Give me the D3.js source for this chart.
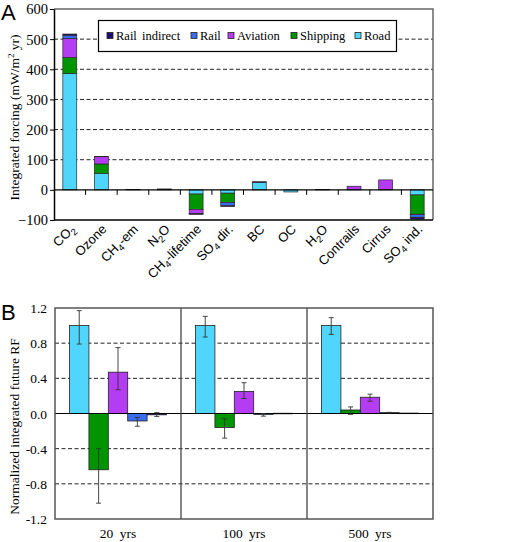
<!DOCTYPE html>
<html><head><meta charset="utf-8">
<script src="https://cdn.jsdelivr.net/npm/d3@7"></script>
<style>body{margin:0;background:#fff}svg{display:block}</style>
</head><body>
<svg id="c" width="520" height="542"></svg>
<script>
// ---------- Panel A data ----------
const categoriesA = ["CO2","Ozone","CH4-em","N2O","CH4-lifetime","SO4 dir.","BC","OC","H2O","Contrails","Cirrus","SO4 ind."];
const seriesNames = ["Road","Shipping","Aviation","Rail","Rail indirect"];
const legendOrder = ["Rail indirect","Rail","Aviation","Shipping","Road"];
const roadA     = [386, 55, 0.8, 1,  -14, -11, 25, -7, 0.6, 0,  0,  -17];
const shippingA = [53,  31, 0,   0,  -51, -31, 0,  0,  0,   0,  0,  -64];
const aviationA = [63,  24, 0,   0,  -14, 0,   0,  0,  0,   12, 33, -1];
const railA     = [11,  1,  0,   0,  -1,  -11, 0,  0,  0,   0,  0,  -9];
const railIndA  = [4,   0,  0.6, 2,  -1,  -2,  2,  0,  0.6, 0,  0,  -6];
const yTicksA = [-100,0,100,200,300,400,500,600];

// ---------- Panel B data ----------
const horizons = ["20 yrs","100 yrs","500 yrs"];
const roadB      = [1.0, 1.0, 1.0];
const roadBlo    = [0.79, 0.87, 0.90];
const roadBhi    = [1.17, 1.105, 1.09];
const shippingB  = [-0.64, -0.16, 0.04];
const shippingBlo= [-1.02, -0.28, -0.01];
const shippingBhi= [-0.40, -0.06, 0.075];
const aviationB  = [0.47, 0.25, 0.185];
const aviationBlo= [0.27, 0.17, 0.14];
const aviationBhi= [0.75, 0.35, 0.22];
const railB      = [-0.085, -0.01, 0.01];
const railBlo    = [-0.145, -0.03, 0.006];
const railBhi    = [-0.045, 0.0, 0.013];
const railIndB   = [-0.015, 0.003, 0.005];
const railIndBlo = [-0.035, 0.003, 0.005];
const railIndBhi = [0.01, 0.003, 0.005];
const yTicksB = [-1.2,-0.8,-0.4,0.0,0.4,0.8,1.2];

const colors = {"Road":"#50d6fc","Shipping":"#009500","Aviation":"#b43cf2","Rail":"#3b6cf0","Rail indirect":"#1b0f70"};
const SERIF = "'Liberation Serif','Times New Roman',serif";
const SANS = "'Liberation Sans',Arial,sans-serif";

const svg = d3.select("#c");

// helper: chemical formula subscripts
function addFormula(sel, str, size){
  const parts = str.match(/([A-Za-z][0-9]+)|([^0-9]+)|([0-9]+)/g);
  let re = /[A-Za-z]\d/;
  let tokens = [];
  let i = 0;
  while(i < str.length){
    const ch = str[i];
    if(/\d/.test(ch) && i>0 && /[A-Za-z]/.test(str[i-1])){
      let j=i; while(j<str.length && /\d/.test(str[j])) j++;
      tokens.push({t:str.slice(i,j), sub:true}); i=j;
    } else {
      let j=i; while(j<str.length && !( /\d/.test(str[j]) && j>0 && /[A-Za-z]/.test(str[j-1]) )) j++;
      tokens.push({t:str.slice(i,j), sub:false}); i=j;
    }
  }
  let prevSub=false;
  tokens.forEach(tk=>{
    const ts = sel.append("tspan").text(tk.t);
    if(tk.sub){ ts.attr("font-size", size*0.72).attr("dy", size*0.25); prevSub=true; }
    else if(prevSub){ ts.attr("dy", -size*0.25); prevSub=false; }
  });
}

// ================= PANEL A =================
(function(){
  const L=54, R=433, T=9, B=220;
  const x = d3.scaleBand().domain(categoriesA).range([L,R]).paddingInner(0.56).paddingOuter(0.28);
  const y = d3.scaleLinear().domain([-100,600]).range([B,T]);
  const g = svg.append("g");

  // gridlines
  g.selectAll("line.grid").data(yTicksA.filter(d=>d>0 && d<600)).join("line")
    .attr("x1",L).attr("x2",R).attr("y1",d=>y(d)).attr("y2",d=>y(d))
    .attr("stroke","#222").attr("stroke-width",1).attr("stroke-dasharray","4,2.5");

  // frame
  g.append("path").attr("d",`M${L},${T}H${R}V${B}`).attr("fill","none").attr("stroke","#666").attr("stroke-width",1.5);

  // stacked bars
  const rows = categoriesA.map((c,i)=>({cat:c,"Road":roadA[i],"Shipping":shippingA[i],"Aviation":aviationA[i],"Rail":railA[i],"Rail indirect":railIndA[i]}));
  const stack = d3.stack().keys(seriesNames).offset(d3.stackOffsetDiverging)(rows);
  stack.forEach(s=>{
    g.append("g").selectAll("rect").data(s.filter(d=>d[1]!==d[0])).join("rect")
      .attr("x",d=>x(d.data.cat)).attr("width",x.bandwidth())
      .attr("y",d=>y(Math.max(d[0],d[1]))).attr("height",d=>Math.abs(y(d[0])-y(d[1])))
      .attr("fill",colors[s.key]).attr("stroke","#2a2a2a").attr("stroke-width",0.7);
  });

  // zero line & category ticks
  g.append("line").attr("x1",L).attr("x2",R).attr("y1",y(0)).attr("y2",y(0)).attr("stroke","#000").attr("stroke-width",1.2);
  const step = x.step();
  g.selectAll("line.ct").data(d3.range(1,categoriesA.length)).join("line")
    .attr("x1",d=>L+d*(R-L)/categoriesA.length).attr("x2",d=>L+d*(R-L)/categoriesA.length)
    .attr("y1",y(0)).attr("y2",y(0)+5).attr("stroke","#000").attr("stroke-width",1);

  // y axis
  const ay = g.append("g").attr("transform",`translate(${L},0)`)
    .call(d3.axisLeft(y).tickValues(yTicksA).tickSize(4).tickSizeOuter(0).tickFormat(d3.format("d")));
  ay.select(".domain").attr("stroke","#000").attr("stroke-width",1.5);
  ay.selectAll("line").attr("stroke","#000");
  ay.selectAll("text").attr("font-family",SERIF).attr("font-size",14.5).attr("fill","#000").attr("x",-6).attr("dy","0.34em");
  // bottom line
  g.append("line").attr("x1",L).attr("x2",R).attr("y1",B).attr("y2",B).attr("stroke","#000").attr("stroke-width",1.5);

  // x labels
  categoriesA.forEach(c=>{
    const cx = x(c)+x.bandwidth()/2;
    const t = g.append("text").attr("font-family",SANS).attr("font-size",13).attr("fill","#000")
      .attr("text-anchor","end").attr("transform",`translate(${cx+6},${B+10}) rotate(-45)`);
    addFormula(t,c,13);
  });

  // y label
  const yl = g.append("text").attr("font-family",SERIF).attr("font-size",13.5).attr("fill","#000")
    .attr("text-anchor","middle").attr("transform",`translate(19,${(T+B)/2+3}) rotate(-90)`);
  yl.append("tspan").text("Integrated forcing (mW/m");
  yl.append("tspan").text("2").attr("font-size",9).attr("dy",-5);
  yl.append("tspan").text(" yr)").attr("dy",5);

  // legend
  const lg = g.append("g");
  lg.append("rect").attr("x",98.5).attr("y",20.5).attr("width",298).attr("height",31).attr("fill","#fff").attr("stroke","#000").attr("stroke-width",1.2);
  const lx = [107,191,228,291,355];
  legendOrder.forEach((k,i)=>{
    lg.append("rect").attr("x",lx[i]).attr("y",32.5).attr("width",6).attr("height",6)
      .attr("fill",colors[k]).attr("stroke","#222").attr("stroke-width",0.8);
    lg.append("text").attr("x",lx[i]+9).attr("y",40).attr("font-family",SERIF).attr("font-size",12.5)
      .attr("word-spacing",2).attr("fill","#000").text(k);
  });

  g.append("text").attr("x",1).attr("y",20).attr("font-family",SANS).attr("font-size",22).attr("fill","#000").text("A");
})();

// ================= PANEL B =================
(function(){
  const L=55, R=433, T=308, B=519;
  const x0 = d3.scaleBand().domain(horizons).range([L,R]);
  const x1 = d3.scaleBand().domain(seriesNames).range([0,x0.bandwidth()]).paddingInner(0).paddingOuter(0.75);
  const y = d3.scaleLinear().domain([-1.2,1.2]).range([B,T]);
  const g = svg.append("g");

  g.selectAll("line.grid").data(yTicksB.filter(d=>d!==0 && Math.abs(d)<1.2)).join("line")
    .attr("x1",L).attr("x2",R).attr("y1",d=>y(d)).attr("y2",d=>y(d))
    .attr("stroke","#222").attr("stroke-width",1).attr("stroke-dasharray","4,2.5");

  const vals = {"Road":[roadB,roadBlo,roadBhi],"Shipping":[shippingB,shippingBlo,shippingBhi],
    "Aviation":[aviationB,aviationBlo,aviationBhi],"Rail":[railB,railBlo,railBhi],"Rail indirect":[railIndB,railIndBlo,railIndBhi]};
  const data = [];
  horizons.forEach((h,i)=>seriesNames.forEach(s=>data.push({h,s,v:vals[s][0][i],lo:vals[s][1][i],hi:vals[s][2][i]})));

  g.selectAll("rect.bar").data(data).join("rect")
    .attr("x",d=>x0(d.h)+x1(d.s)).attr("width",x1.bandwidth())
    .attr("y",d=>y(Math.max(0,d.v))).attr("height",d=>Math.max(0.6,Math.abs(y(d.v)-y(0))))
    .attr("fill",d=>colors[d.s]).attr("stroke","#222").attr("stroke-width",0.8);

  // zero line
  g.append("line").attr("x1",L).attr("x2",R).attr("y1",y(0)).attr("y2",y(0)).attr("stroke","#000").attr("stroke-width",1.2);

  // error bars
  const eb = g.append("g").attr("stroke","#333").attr("stroke-width",0.9);
  data.filter(d=>d.hi-d.lo>0.004).forEach(d=>{
    const cx = x0(d.h)+x1(d.s)+x1.bandwidth()/2;
    eb.append("line").attr("x1",cx).attr("x2",cx).attr("y1",y(d.lo)).attr("y2",y(d.hi));
    eb.append("line").attr("x1",cx-2.5).attr("x2",cx+2.5).attr("y1",y(d.lo)).attr("y2",y(d.lo));
    eb.append("line").attr("x1",cx-2.5).attr("x2",cx+2.5).attr("y1",y(d.hi)).attr("y2",y(d.hi));
  });

  // separators and frame
  horizons.slice(1).forEach(h=>{
    g.append("line").attr("x1",x0(h)).attr("x2",x0(h)).attr("y1",T).attr("y2",B).attr("stroke","#444").attr("stroke-width",1.3);
  });
  g.append("rect").attr("x",L).attr("y",T).attr("width",R-L).attr("height",B-T).attr("fill","none").attr("stroke","#555").attr("stroke-width",1.5);

  const ay = g.append("g").attr("transform",`translate(${L},0)`)
    .call(d3.axisLeft(y).tickValues(yTicksB).tickSize(0).tickFormat(d3.format(".1f")));
  ay.select(".domain").remove();
  ay.selectAll("text").attr("font-family",SERIF).attr("font-size",13.5).attr("fill","#000").attr("x",-8).attr("dy","0.34em")
    .text(d=>d3.format(".1f")(d).replace("−","-"));

  g.selectAll("text.xl").data(horizons).join("text")
    .attr("x",d=>x0(d)+x0.bandwidth()/2).attr("y",538).attr("text-anchor","middle")
    .attr("font-family",SERIF).attr("font-size",13.5).attr("word-spacing",3).attr("fill","#000").text(d=>d);

  g.append("text").attr("font-family",SERIF).attr("font-size",13.5).attr("fill","#000")
    .attr("text-anchor","middle").attr("transform",`translate(19,${(T+B)/2+13}) rotate(-90)`)
    .text("Normalized integrated future RF");

  g.append("text").attr("x",1).attr("y",320).attr("font-family",SANS).attr("font-size",22).attr("fill","#000").text("B");
})();
</script>
</body></html>
